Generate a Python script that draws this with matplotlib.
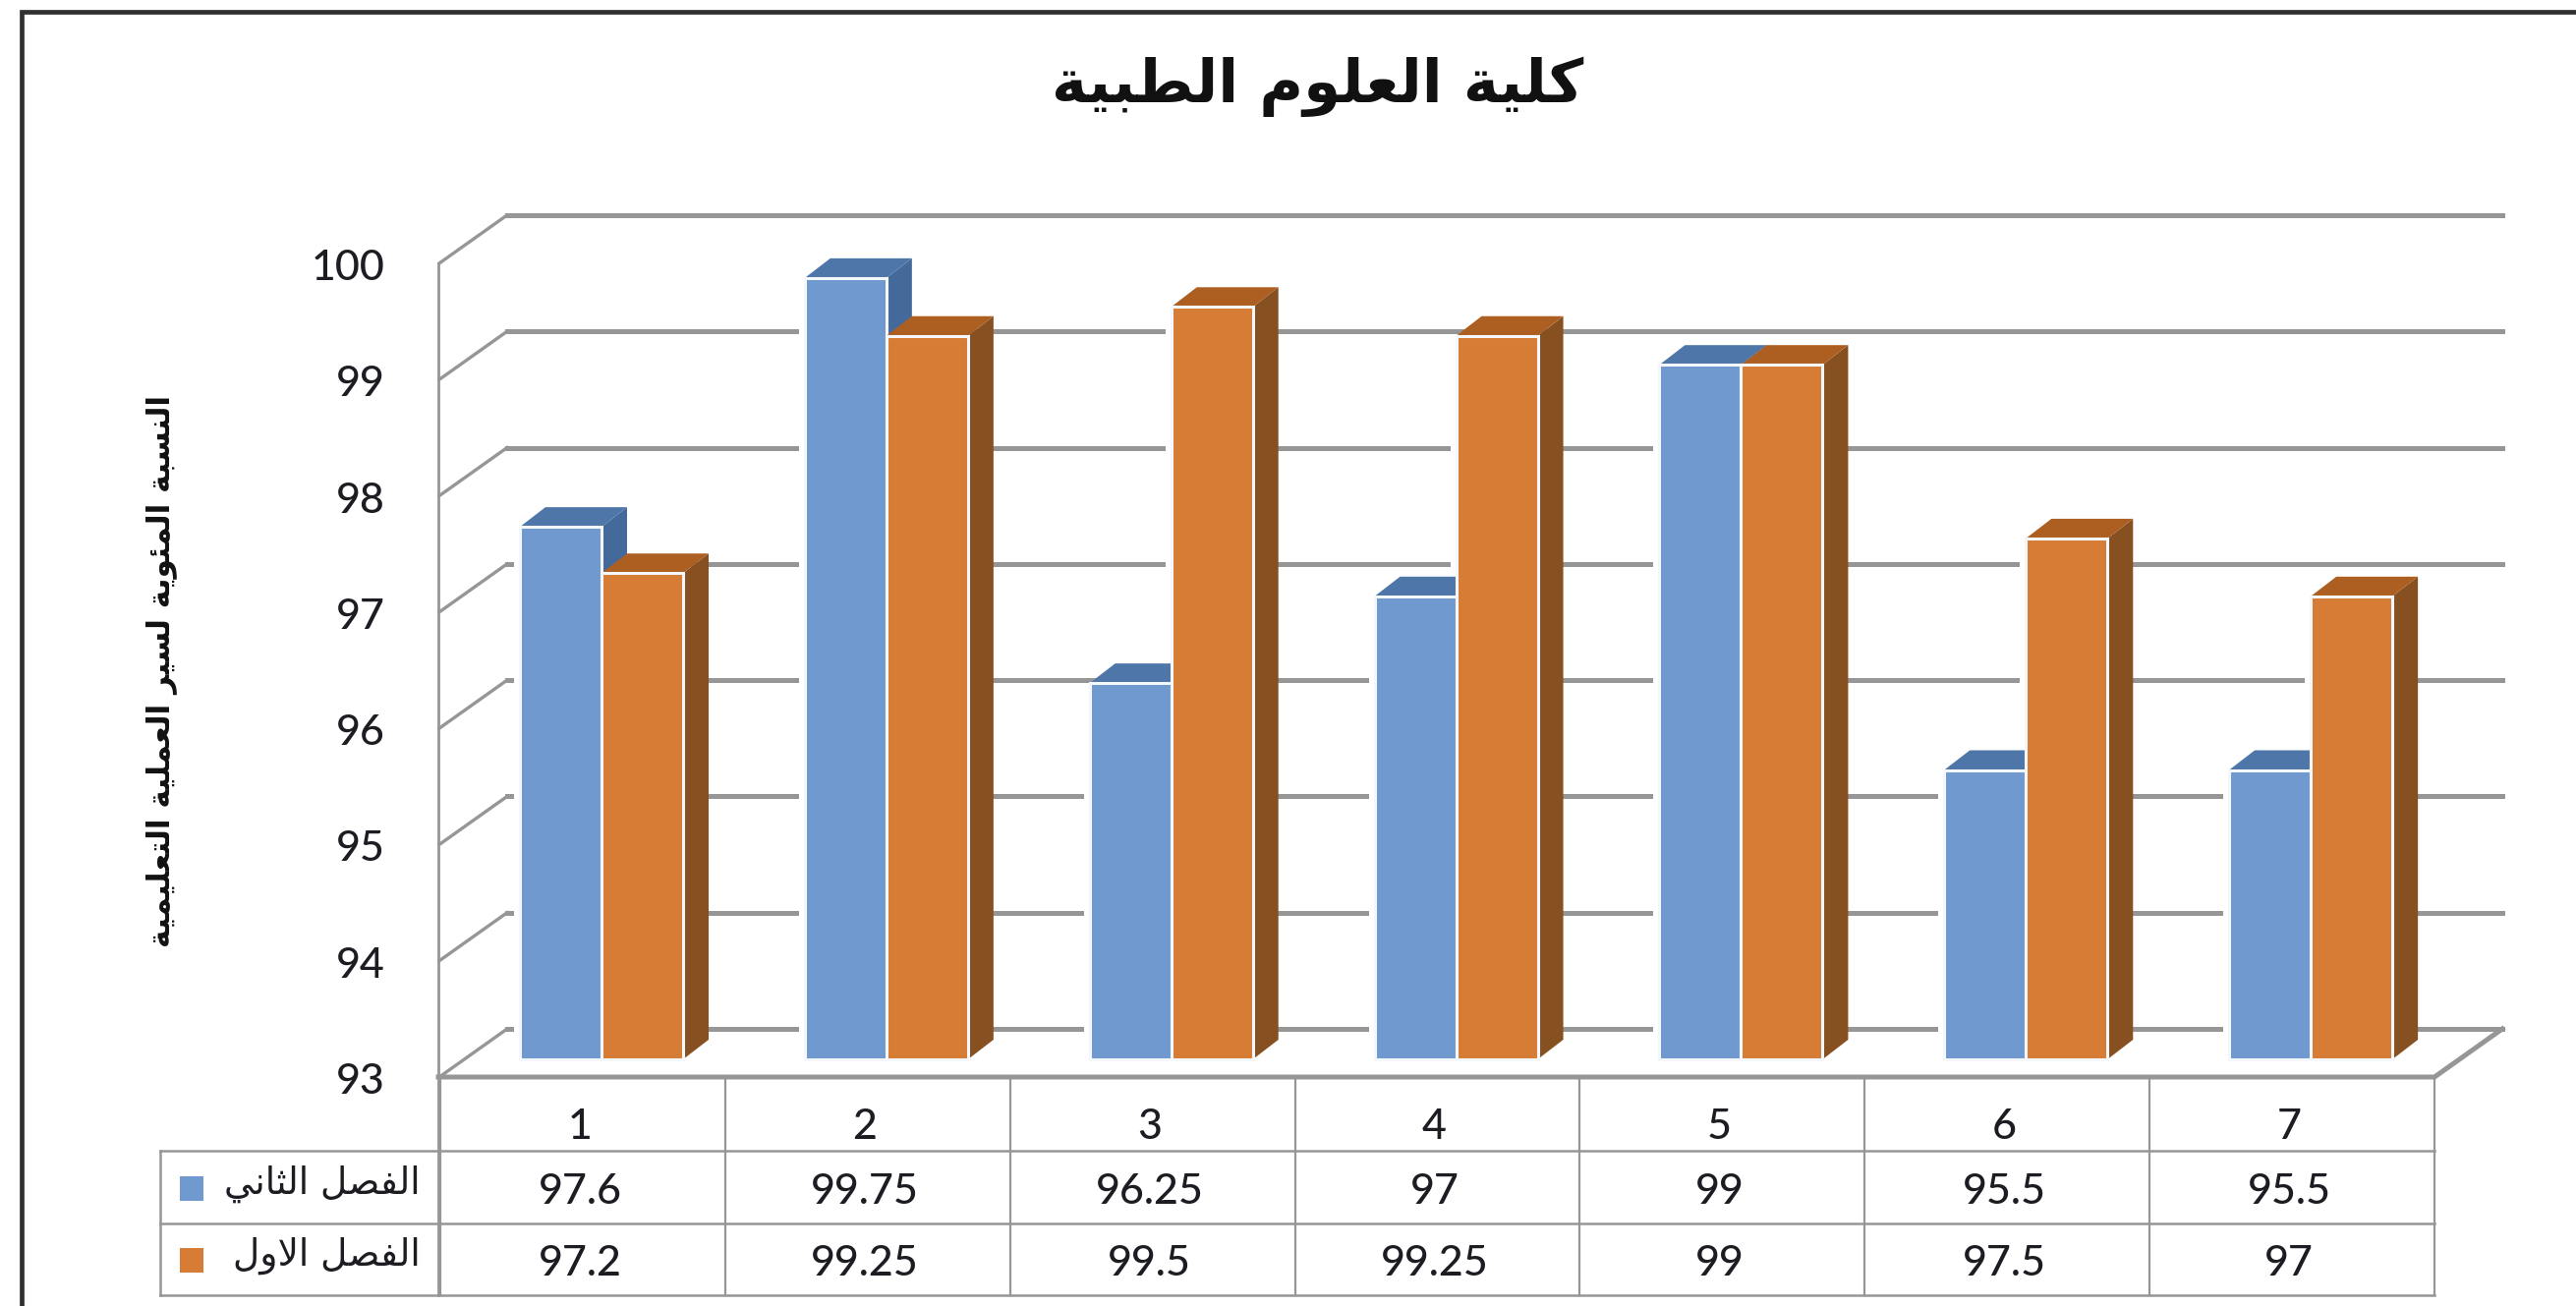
import matplotlib
matplotlib.use('Agg')
import matplotlib.pyplot as plt
from matplotlib.patches import Polygon, Rectangle

TITLE = 'كلية العلوم الطبية'
Y_LABEL = 'النسبة المئوية لسير العملية التعليمية'
SERIES_NAMES = ['الفصل الثاني', 'الفصل الاول']
CATEGORIES = [1, 2, 3, 4, 5, 6, 7]
SECOND_TERM = [97.6, 99.75, 96.25, 97, 99, 95.5, 95.5]
FIRST_TERM = [97.2, 99.25, 99.5, 99.25, 99, 97.5, 97]
Y_TICKS = [93, 94, 95, 96, 97, 98, 99, 100]

W, H = 2621, 1329
GREY = '#969696'
TEXT = '#1c1c22'

BLUE = ('#7099cf', '#44699b', '#4f76a8')    # front, side, top
ORANGE = ('#d67c35', '#875020', '#ad5f22')

# isolated, final, initial, medial presentation forms
FORMS = {
    'ا': '\uFE8D\uFE8E', 'و': '\uFEED\uFEEE', 'ر': '\uFEAD\uFEAE', 'ة': '\uFE93\uFE94',
    'ب': '\uFE8F\uFE90\uFE91\uFE92', 'ت': '\uFE95\uFE96\uFE97\uFE98',
    'ث': '\uFE99\uFE9A\uFE9B\uFE9C', 'س': '\uFEB1\uFEB2\uFEB3\uFEB4',
    'ص': '\uFEB9\uFEBA\uFEBB\uFEBC', 'ط': '\uFEC1\uFEC2\uFEC3\uFEC4',
    'ع': '\uFEC9\uFECA\uFECB\uFECC', 'ف': '\uFED1\uFED2\uFED3\uFED4',
    'ك': '\uFED9\uFEDA\uFEDB\uFEDC', 'ل': '\uFEDD\uFEDE\uFEDF\uFEE0',
    'م': '\uFEE1\uFEE2\uFEE3\uFEE4', 'ن': '\uFEE5\uFEE6\uFEE7\uFEE8',
    'ي': '\uFEF1\uFEF2\uFEF3\uFEF4', 'ئ': '\uFE89\uFE8A\uFE8B\uFE8C',
}


def shape(text):
    # matplotlib does no Arabic shaping, so pick the joined forms by hand
    # and reverse, the text gets laid out left to right.
    words = []
    for word in text.split(' '):
        out = []
        joined = False
        i = 0
        while i < len(word):
            c = word[i]
            if c == 'ل' and i + 1 < len(word) and word[i + 1] == 'ا':
                out.append('\uFEFC' if joined else '\uFEFB')
                joined = False
                i += 2
                continue
            forms = FORMS[c]
            has_next = i + 1 < len(word)
            if len(forms) == 2:
                out.append(forms[1] if joined else forms[0])
                joined = False
            else:
                if joined and has_next:
                    out.append(forms[3])
                elif joined:
                    out.append(forms[1])
                elif has_next:
                    out.append(forms[2])
                else:
                    out.append(forms[0])
                joined = has_next
            i += 1
        words.append(''.join(out))
    return ' '.join(words)[::-1]


fig = plt.figure(figsize=(W / 100, H / 100), dpi=100, facecolor='white')
plt.rcParams['font.family'] = ['Lato', 'DejaVu Sans']
plt.rcParams['font.weight'] = 'medium'

# pixel overlay for the frame, walls, table
bg = fig.add_axes([0, 0, 1, 1], zorder=1)
bg.set_xlim(0, W)
bg.set_ylim(H, 0)
bg.set_axis_off()

# bars axes, pixel box comes from the bar base and the per unit height
unit = 117.8
cell = (2477 - 448) / 7
ax = fig.add_axes([448 / W, 1 - 1078 / H, (2477 - 448) / W, 7 * unit / H], zorder=2)
ax.set_xlim(0, 7)
ax.set_ylim(93, 100)
ax.set_axis_off()

# outer frame, only top and left show
bg.plot([22, 22, W], [H, 12, 12], color='#303030', lw=3.4, solid_joinstyle='miter')

# walls
for v in Y_TICKS:
    y_front = 1096 - (v - 93) * 118.3
    y_back = y_front - 49
    bg.plot([447, 516], [y_front, y_back], color=GREY, lw=2.4)
    bg.plot([516, 2546], [y_back, y_back], color=GREY, lw=3.6)
    bg.text(392, y_front + 17, str(v), ha='right', va='baseline', fontsize=31, color=TEXT)
bg.plot([446, 446], [1096 - 7 * 118.3, 1318], color=GREY, lw=2)
bg.plot([446, 2477, 2546], [1096, 1096, 1047], color=GREY, lw=3.6)

# table
for i in range(8):
    bg.plot([448 + i * cell] * 2, [1096, 1318], color=GREY, lw=1.6)
for y in [1171, 1245, 1318]:
    bg.plot([163, 2477], [y, y], color=GREY, lw=1.8)
bg.plot([163, 163], [1171, 1318], color=GREY, lw=1.8)

for i, cat in enumerate(CATEGORIES):
    x = 448 + (i + 0.5) * cell - 3
    bg.text(x, 1159, str(cat), ha='center', va='baseline', fontsize=31, color=TEXT)
    bg.text(x, 1225, str(SECOND_TERM[i]), ha='center', va='baseline', fontsize=31, color=TEXT)
    bg.text(x, 1298, str(FIRST_TERM[i]), ha='center', va='baseline', fontsize=31, color=TEXT)

# legend keys inside the table
for name, col, y in zip(SERIES_NAMES, [BLUE[0], ORANGE[0]], [1197, 1270]):
    bg.add_patch(Rectangle((183, y), 24, 25, facecolor=col, edgecolor='none'))
    bg.text(428, y + 8, shape(name), ha='right', va='center', fontsize=27,
            family='DejaVu Sans', weight='normal', color=TEXT)

bg.text(1341, 88, shape(TITLE), ha='center', va='center', fontsize=44,
        family='DejaVu Sans', weight='bold', color='#111111')
bg.text(164, 683, shape(Y_LABEL), ha='center', va='center', rotation=90, fontsize=22.5,
        family='DejaVu Sans', weight='bold', color='#111111')

# bars
bar_w = 83 / cell
depth_x = 26 / cell
depth_y = 20 / unit
centre = (612 - 448) / cell

for i in range(len(CATEGORIES)):
    pairs = [(-bar_w, SECOND_TERM[i], BLUE), (0, FIRST_TERM[i], ORANGE)]
    # white halo, the gridlines stop short of the bars
    for offset, value, cols in pairs:
        ax.bar(i + centre + offset + bar_w / 2, value - 93, bottom=93, width=bar_w + 12 / cell,
               color='white', linewidth=0, clip_on=False)
    for offset, value, cols in pairs:
        x0 = i + centre + offset
        x1 = x0 + bar_w
        ax.add_patch(Polygon([(x1, 93), (x1 + depth_x, 93 + depth_y),
                              (x1 + depth_x, value + depth_y), (x1, value)],
                             facecolor=cols[1], edgecolor='none', clip_on=False))
        ax.add_patch(Polygon([(x0, value), (x0 + depth_x, value + depth_y),
                              (x1 + depth_x, value + depth_y), (x1, value)],
                             facecolor=cols[2], edgecolor='none', clip_on=False))
        ax.bar(x0 + bar_w / 2, value - 93, bottom=93, width=bar_w, color=cols[0],
               edgecolor='#f4f7fb', linewidth=2.2, clip_on=False)

fig.savefig('out.png', dpi=100)
